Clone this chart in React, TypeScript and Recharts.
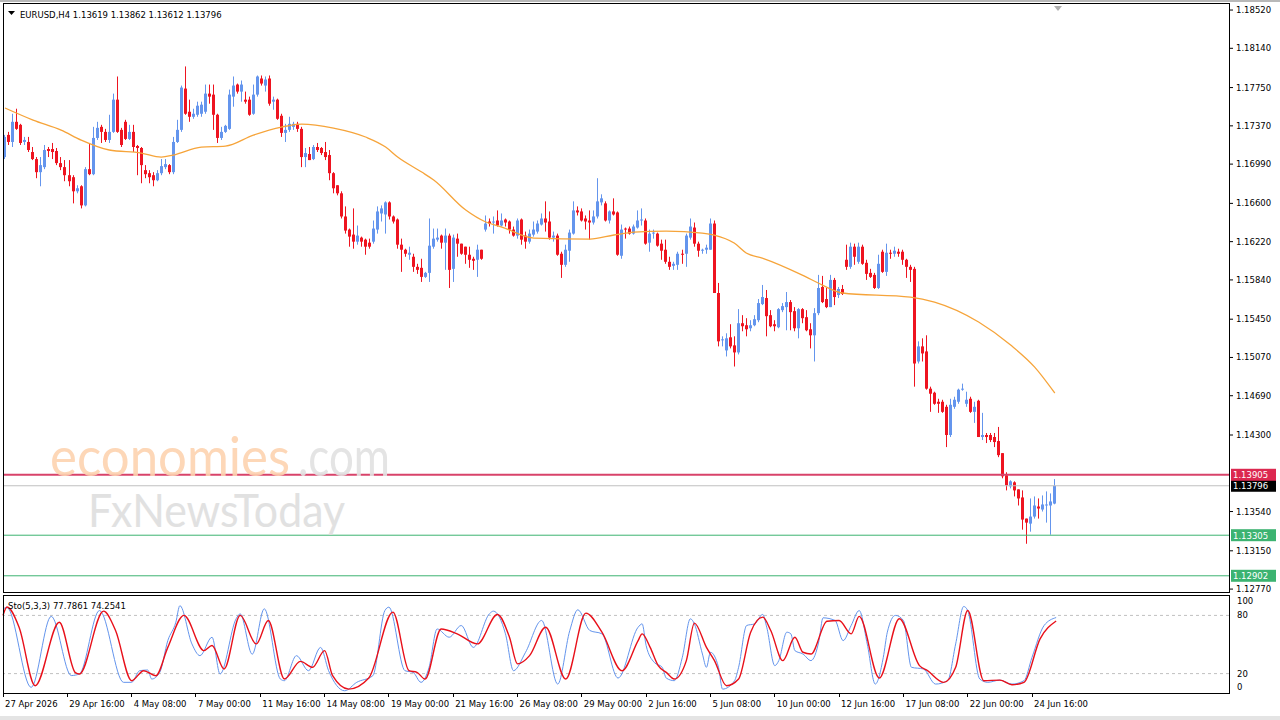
import React from 'react';
import { ComposedChart, Bar, Line, XAxis, YAxis, ReferenceLine } from 'recharts';

// EURUSD H4 candles, bar 0 = 27 Apr 2026 00:00
const OPEN = [
  1.1706, 1.1728, 1.1721, 1.1741, 1.1738, 1.1721, 1.1721, 1.1711, 1.1704, 1.1691,
  1.1696, 1.1714, 1.1714, 1.1712, 1.17, 1.1696, 1.1688, 1.1686, 1.1672, 1.1677,
  1.1658, 1.1694, 1.1689, 1.1725, 1.1736, 1.1731, 1.1723, 1.1731, 1.1763, 1.1733,
  1.1741, 1.1724, 1.1731, 1.1717, 1.1715, 1.1693, 1.169, 1.1688, 1.1683, 1.169,
  1.1696, 1.1698, 1.1691, 1.1721, 1.1733, 1.1774, 1.1751, 1.1746, 1.1748, 1.1749,
  1.1751, 1.1769, 1.1768, 1.1748, 1.1725, 1.1731, 1.1734, 1.1766, 1.1778, 1.1771,
  1.1763, 1.1763, 1.1749, 1.1768, 1.1784, 1.1777, 1.1784, 1.1761, 1.1763, 1.1747,
  1.173, 1.1733, 1.1736, 1.1739, 1.1734, 1.1706, 1.1709, 1.1704, 1.1716, 1.1715,
  1.1711, 1.1708, 1.169, 1.1678, 1.167, 1.1647, 1.1634, 1.1629, 1.1622, 1.1626,
  1.1624, 1.1621, 1.1622, 1.1634, 1.165, 1.1649, 1.1661, 1.1647, 1.1644, 1.1619,
  1.1614, 1.1609, 1.1607, 1.1597, 1.1596, 1.1587, 1.1591, 1.1617, 1.1624, 1.1628,
  1.1621, 1.1628, 1.1595, 1.1625, 1.162, 1.1617, 1.1609, 1.1605, 1.1604, 1.1614,
  1.1634, 1.1642, 1.1641, 1.1643, 1.1638, 1.1644, 1.1642, 1.1634, 1.1628, 1.1644,
  1.1628, 1.1622, 1.1629, 1.1632, 1.1639, 1.1645, 1.1642, 1.1626, 1.1628, 1.161,
  1.1599, 1.1613, 1.163, 1.1653, 1.1652, 1.1645, 1.1643, 1.1641, 1.1647, 1.1661,
  1.166, 1.1643, 1.1652, 1.1651, 1.1608, 1.1635, 1.1635, 1.163, 1.1636, 1.1643,
  1.1643, 1.1621, 1.163, 1.163, 1.162, 1.1614, 1.1602, 1.1598, 1.1599, 1.161,
  1.161, 1.1626, 1.1636, 1.162, 1.1613, 1.1614, 1.1614, 1.164, 1.1571, 1.1524,
  1.1514, 1.1527, 1.1519, 1.1512, 1.1541, 1.1539, 1.1536, 1.1539, 1.1544, 1.156,
  1.1566, 1.1549, 1.154, 1.1537, 1.1554, 1.1557, 1.1562, 1.1553, 1.1536, 1.1555,
  1.1547, 1.1535, 1.1529, 1.1551, 1.1577, 1.1565, 1.1557, 1.1584, 1.1569, 1.1575,
  1.1604, 1.1597, 1.1617, 1.1602, 1.1617, 1.1601, 1.1591, 1.1589, 1.1576, 1.1612,
  1.1592, 1.1611, 1.161, 1.1612, 1.1612, 1.1604, 1.1597, 1.1595, 1.1503, 1.1518,
  1.1513, 1.1476, 1.1472, 1.1463, 1.1463, 1.1458, 1.143, 1.1458, 1.1463, 1.1475,
  1.1461, 1.1466, 1.1453, 1.1464, 1.1428, 1.143, 1.143, 1.1428, 1.1424, 1.1412,
  1.139, 1.1379, 1.1383, 1.1376, 1.1368, 1.1347, 1.1342, 1.1349, 1.1359, 1.1356,
  1.136, 1.136, 1.13619,
];
const HIGH = [
  1.1728, 1.1731, 1.1749, 1.1754, 1.1739, 1.1726, 1.1726, 1.1716, 1.1706, 1.1706,
  1.1718, 1.1716, 1.172, 1.1715, 1.1706, 1.1703, 1.1703, 1.1688, 1.1678, 1.1678,
  1.1696, 1.172, 1.1736, 1.1741, 1.1738, 1.1734, 1.1748, 1.1769, 1.1786, 1.1735,
  1.1743, 1.1738, 1.1738, 1.1718, 1.1716, 1.1698, 1.1693, 1.1691, 1.1693, 1.1704,
  1.1704, 1.1699, 1.1726, 1.1743, 1.1777, 1.1796, 1.1763, 1.1754, 1.1761, 1.1761,
  1.1778, 1.1778, 1.1778, 1.1749, 1.1736, 1.1738, 1.1773, 1.1786, 1.1779, 1.1782,
  1.1771, 1.1766, 1.1778, 1.1787, 1.1787, 1.1786, 1.1787, 1.1766, 1.1764, 1.1749,
  1.1739, 1.1746, 1.1741, 1.1741, 1.1736, 1.1715, 1.1716, 1.1718, 1.172, 1.1716,
  1.1721, 1.1713, 1.1691, 1.1678, 1.1672, 1.1657, 1.1635, 1.1655, 1.1638, 1.1627,
  1.1625, 1.1625, 1.1643, 1.1657, 1.1658, 1.1662, 1.1662, 1.1648, 1.1645, 1.1625,
  1.1615, 1.1617, 1.161, 1.16, 1.1605, 1.1592, 1.1645, 1.1635, 1.1635, 1.1629,
  1.1635, 1.163, 1.1629, 1.163, 1.162, 1.1617, 1.1617, 1.1607, 1.1619, 1.1614,
  1.1648, 1.1645, 1.1647, 1.1653, 1.165, 1.1645, 1.1643, 1.1637, 1.1645, 1.1645,
  1.1632, 1.1634, 1.1642, 1.1643, 1.165, 1.1662, 1.1652, 1.1632, 1.163, 1.1612,
  1.1619, 1.1634, 1.1662, 1.1657, 1.1655, 1.1648, 1.1653, 1.1653, 1.1685, 1.1669,
  1.1662, 1.1653, 1.1665, 1.1652, 1.1639, 1.1636, 1.1637, 1.1639, 1.1653, 1.1655,
  1.1645, 1.1634, 1.1634, 1.1631, 1.1624, 1.1624, 1.1607, 1.1602, 1.1612, 1.1614,
  1.163, 1.1645, 1.1641, 1.1622, 1.1615, 1.1619, 1.1645, 1.1643, 1.1581, 1.1528,
  1.1531, 1.154, 1.1528, 1.1555, 1.1549, 1.1546, 1.1544, 1.1549, 1.1565, 1.1579,
  1.1574, 1.1554, 1.1544, 1.1556, 1.1561, 1.1572, 1.1564, 1.1557, 1.1556, 1.1556,
  1.1554, 1.1541, 1.1556, 1.1589, 1.1588, 1.1576, 1.1589, 1.1586, 1.1577, 1.1579,
  1.1619, 1.1621, 1.162, 1.1621, 1.1619, 1.1604, 1.1595, 1.1591, 1.1609, 1.1614,
  1.162, 1.1614, 1.1617, 1.1615, 1.1614, 1.1605, 1.1599, 1.1597, 1.1523, 1.1526,
  1.1529, 1.1478, 1.1473, 1.1466, 1.1465, 1.146, 1.1466, 1.1468, 1.1476, 1.1481,
  1.1473, 1.1468, 1.1463, 1.1465, 1.1452, 1.1432, 1.1432, 1.1432, 1.1438, 1.1412,
  1.1393, 1.1385, 1.1384, 1.1376, 1.1375, 1.1347, 1.1367, 1.1369, 1.1367, 1.137,
  1.1374, 1.1372, 1.13862,
];
const LOW = [
  1.1704, 1.1718, 1.1716, 1.1733, 1.1718, 1.1718, 1.1711, 1.1703, 1.1685, 1.1677,
  1.1694, 1.1706, 1.1704, 1.1698, 1.1693, 1.1682, 1.1677, 1.166, 1.167, 1.1655,
  1.1657, 1.1688, 1.1688, 1.1723, 1.172, 1.1721, 1.172, 1.173, 1.173, 1.1716,
  1.1723, 1.1723, 1.1711, 1.1688, 1.168, 1.1685, 1.168, 1.1677, 1.1682, 1.1688,
  1.1694, 1.1689, 1.1689, 1.172, 1.1731, 1.1748, 1.1741, 1.1744, 1.1746, 1.1746,
  1.1749, 1.1759, 1.1733, 1.172, 1.1723, 1.173, 1.1733, 1.1756, 1.1769, 1.1761,
  1.1759, 1.1747, 1.1748, 1.1766, 1.1777, 1.1771, 1.1757, 1.1753, 1.1743, 1.1726,
  1.1721, 1.1731, 1.1733, 1.1731, 1.1696, 1.1696, 1.1703, 1.1703, 1.1711, 1.1708,
  1.1703, 1.1683, 1.167, 1.1668, 1.1645, 1.163, 1.1617, 1.1615, 1.1619, 1.1617,
  1.1609, 1.1615, 1.162, 1.163, 1.1642, 1.163, 1.1644, 1.164, 1.1615, 1.1592,
  1.1607, 1.1604, 1.1592, 1.159, 1.1582, 1.1586, 1.1582, 1.1615, 1.1622, 1.1615,
  1.1594, 1.1576, 1.1582, 1.1607, 1.1609, 1.16, 1.1596, 1.1594, 1.1587, 1.1604,
  1.1632, 1.1637, 1.163, 1.1637, 1.1637, 1.1637, 1.163, 1.1627, 1.1625, 1.1619,
  1.1615, 1.162, 1.1627, 1.163, 1.1638, 1.1632, 1.1624, 1.1622, 1.1608, 1.1586,
  1.1597, 1.1602, 1.1629, 1.1648, 1.1642, 1.1634, 1.1624, 1.1639, 1.1645, 1.1658,
  1.1642, 1.164, 1.1648, 1.1608, 1.1605, 1.1625, 1.1629, 1.1629, 1.1635, 1.1638,
  1.1619, 1.1612, 1.1625, 1.1617, 1.1604, 1.16, 1.1594, 1.1594, 1.1594, 1.16,
  1.1597, 1.1624, 1.1617, 1.1607, 1.161, 1.161, 1.1614, 1.1571, 1.1518, 1.1518,
  1.1508, 1.1516, 1.1498, 1.151, 1.1533, 1.1528, 1.1533, 1.1538, 1.1542, 1.1559,
  1.1528, 1.1537, 1.1533, 1.1536, 1.1552, 1.1534, 1.1534, 1.1533, 1.1526, 1.1541,
  1.1533, 1.1516, 1.1503, 1.1549, 1.1561, 1.1556, 1.1557, 1.1559, 1.1566, 1.1569,
  1.1594, 1.1595, 1.1599, 1.16, 1.1599, 1.1584, 1.1586, 1.1575, 1.1575, 1.1591,
  1.1588, 1.1605, 1.1607, 1.1607, 1.1599, 1.1586, 1.1582, 1.1478, 1.1501, 1.1503,
  1.1475, 1.1453, 1.146, 1.1452, 1.1452, 1.1418, 1.1428, 1.1456, 1.1461, 1.1474,
  1.1458, 1.1452, 1.1442, 1.1428, 1.1425, 1.1422, 1.1423, 1.1418, 1.1408, 1.1387,
  1.1375, 1.1377, 1.1369, 1.136, 1.1336, 1.1322, 1.1334, 1.1347, 1.1347, 1.1354,
  1.1343, 1.1331, 1.13612,
];
const CLOSE = [
  1.1726, 1.1721, 1.1741, 1.1734, 1.172, 1.1723, 1.1713, 1.1704, 1.1691, 1.1698,
  1.1713, 1.1712, 1.1711, 1.17, 1.1696, 1.1688, 1.1682, 1.1672, 1.1675, 1.1658,
  1.1694, 1.1689, 1.1725, 1.1735, 1.1731, 1.1723, 1.1731, 1.1763, 1.1731, 1.1718,
  1.1724, 1.1731, 1.1716, 1.1715, 1.1698, 1.1689, 1.1686, 1.1683, 1.169, 1.1697,
  1.1699, 1.1691, 1.1721, 1.1733, 1.1775, 1.1749, 1.1746, 1.1749, 1.1757, 1.1758,
  1.1769, 1.1766, 1.1748, 1.1725, 1.1731, 1.1737, 1.1768, 1.1777, 1.1771, 1.1778,
  1.1761, 1.1748, 1.1768, 1.1786, 1.1779, 1.1783, 1.1759, 1.1763, 1.1744, 1.173,
  1.1733, 1.1739, 1.1739, 1.1734, 1.1706, 1.171, 1.1703, 1.1716, 1.1713, 1.171,
  1.1706, 1.169, 1.1675, 1.167, 1.1647, 1.1633, 1.1627, 1.1622, 1.1628, 1.1622,
  1.1617, 1.1617, 1.1635, 1.1652, 1.1655, 1.1661, 1.1647, 1.1642, 1.1619, 1.1614,
  1.161, 1.1611, 1.1597, 1.1594, 1.1587, 1.1591, 1.1618, 1.1625, 1.1626, 1.1621,
  1.1628, 1.1594, 1.1626, 1.162, 1.161, 1.1609, 1.1604, 1.1603, 1.1614, 1.1605,
  1.164, 1.164, 1.1642, 1.1638, 1.1643, 1.1641, 1.1634, 1.1628, 1.1643, 1.1624,
  1.1622, 1.163, 1.1634, 1.164, 1.1645, 1.1641, 1.1626, 1.1628, 1.1609, 1.1599,
  1.1614, 1.1631, 1.1653, 1.1651, 1.1643, 1.1642, 1.1641, 1.1647, 1.1662, 1.1665,
  1.1643, 1.1652, 1.1649, 1.1609, 1.1634, 1.1634, 1.163, 1.1637, 1.1643, 1.1644,
  1.162, 1.163, 1.1631, 1.1618, 1.1613, 1.1602, 1.1597, 1.16, 1.161, 1.1609,
  1.1628, 1.1637, 1.162, 1.1613, 1.1614, 1.1616, 1.164, 1.1571, 1.1523, 1.1525,
  1.1526, 1.1518, 1.1512, 1.1541, 1.1538, 1.1535, 1.1539, 1.1545, 1.1561, 1.1567,
  1.1548, 1.1538, 1.1538, 1.1555, 1.1558, 1.1562, 1.1552, 1.1536, 1.1555, 1.1546,
  1.1534, 1.1529, 1.1551, 1.1576, 1.1562, 1.1557, 1.1584, 1.1567, 1.1575, 1.157,
  1.1597, 1.1617, 1.1607, 1.1617, 1.16, 1.159, 1.1587, 1.1576, 1.16, 1.1592,
  1.1611, 1.161, 1.1613, 1.161, 1.1604, 1.1597, 1.1594, 1.1501, 1.1518, 1.1511,
  1.1476, 1.1471, 1.1461, 1.1461, 1.1453, 1.143, 1.146, 1.1465, 1.1475, 1.1476,
  1.1465, 1.1453, 1.1458, 1.1428, 1.143, 1.1428, 1.1425, 1.1423, 1.141, 1.1389,
  1.138, 1.1384, 1.1375, 1.1367, 1.1346, 1.1343, 1.1349, 1.136, 1.1357, 1.1361,
  1.1361, 1.1364, 1.13796,
];

// moving average, read at the visible bends
const MA_BAR = [0, 7, 14, 19, 26, 34, 39, 42, 49, 55, 62, 69, 74, 82, 90, 95, 98, 104, 107, 115, 120, 124, 132, 146, 152, 157, 165, 174, 177, 182, 185, 189, 199, 204, 209, 226, 232, 243, 251, 257, 262];
const MA_VAL = [1.17547, 1.17427, 1.17328, 1.17229, 1.1713, 1.171, 1.1706, 1.1708, 1.17159, 1.17169, 1.17278, 1.17358, 1.17388, 1.17348, 1.17259, 1.17159, 1.1706, 1.16911, 1.16832, 1.16534, 1.16415, 1.16365, 1.16256, 1.16246, 1.16286, 1.16315, 1.16325, 1.16305, 1.16286, 1.16206, 1.16107, 1.16057, 1.15888, 1.15789, 1.1571, 1.1567, 1.1562, 1.15422, 1.15193, 1.14974, 1.14717];

// stochastic %K (blue) and %D (red), turning points
const K_BAR = [0, 1, 7, 12, 17, 19, 24, 30, 32, 34, 36, 37, 39, 41, 43, 44, 47, 49, 52, 54, 58, 59, 62, 65, 69, 70, 73, 76, 79, 81, 85, 88, 92, 95, 96, 100, 102, 104, 106, 108, 111, 114, 117, 121, 122, 125, 127, 130, 134, 138, 141, 143, 146, 149, 153, 158, 159, 160, 162, 164, 165, 167, 169, 171, 172, 174, 175, 176, 178, 179, 182, 183, 185, 187, 189, 190, 192, 193, 195, 196, 197, 199, 201, 203, 204, 207, 209, 211, 213, 215, 217, 219, 220, 222, 224, 226, 229, 232, 235, 237, 239, 240, 243, 245, 248, 251, 254, 256, 259, 262];
const K_VAL = [87, 88, 5.8, 79, 18, 19.6, 85, 11, 11, 23, 23.7, 14.4, 21.3, 54, 73, 90, 50.6, 38.5, 57.5, 19.6, 76.5, 81.6, 40, 86.8, 14.4, 12.7, 38.5, 23, 47, 23, 2.3, 11, 17.8, 85, 88.5, 23, 21.3, 11, 26.5, 66, 57.5, 69.6, 47, 81.6, 84.4, 61, 23, 42, 74.8, 9.2, 64.4, 85.8, 64.4, 61, 15.4, 67.8, 71.3, 48.9, 31.6, 26.5, 15.4, 12.7, 36.8, 76.5, 71.3, 40.2, 26.5, 42, 26.5, 4, 12.7, 26.5, 69.6, 71.3, 81, 67.8, 28.2, 33.4, 62.7, 61, 43.7, 40.2, 33.4, 54, 77.5, 74.8, 54, 69.6, 85, 50.6, 9.2, 36.8, 62.7, 80, 74.8, 26.5, 24.7, 9.2, 12.7, 50.6, 89.2, 85, 14.4, 11, 13.3, 9.2, 12.7, 36.8, 69.6, 77.79];
const D_BAR = [0, 1, 4, 8, 14, 18, 19, 25, 28, 32, 35, 38, 41, 45, 50, 52, 55, 59, 63, 66, 70, 74, 77, 80, 82, 86, 91, 97, 101, 103, 105, 109, 113, 118, 123, 126, 128, 131, 135, 140, 145, 149, 154, 158, 159, 161, 163, 165, 167, 170, 172, 175, 177, 180, 183, 186, 189, 191, 194, 197, 199, 201, 205, 208, 211, 213, 218, 223, 228, 230, 234, 237, 240, 244, 248, 251, 254, 258, 262];
const D_VAL = [80, 88.6, 67.8, 7.5, 73, 21, 19.6, 84.4, 64.4, 12.7, 23, 17.8, 47, 80, 43.7, 48.9, 24.7, 80, 50.6, 74.8, 14.4, 32.6, 26.5, 43.7, 17.8, 4, 15.4, 83.4, 23, 21.3, 14.4, 66, 61, 50.6, 81, 57.5, 30, 38.5, 67.8, 14.4, 82.3, 62.7, 23, 54, 61, 47, 28.2, 21.3, 14.4, 33.4, 72, 47, 33.4, 7.5, 14.4, 62.7, 78.2, 64.4, 33.4, 57.5, 42, 40.2, 74, 74.8, 61, 79, 15.4, 76.5, 28.2, 23, 11, 26.5, 85, 12.7, 13.3, 8.5, 11, 55.8, 74.25];

const PRICE_TICKS = [1.1852, 1.1814, 1.1775, 1.1737, 1.1699, 1.166, 1.1622, 1.1584, 1.1545, 1.1507, 1.1469, 1.143, 1.1354, 1.1315, 1.1277];
const TIME_TICKS = [0, 16, 32, 48, 64, 80, 96, 112, 128, 144, 160, 176, 192, 208, 224, 240, 256];
const TIME_LABELS = ['27 Apr 2026', '29 Apr 16:00', '4 May 08:00', '7 May 00:00', '11 May 16:00', '14 May 08:00', '19 May 00:00', '21 May 16:00', '26 May 08:00', '29 May 00:00', '2 Jun 16:00', '5 Jun 08:00', '10 Jun 00:00', '12 Jun 16:00', '17 Jun 08:00', '22 Jun 00:00', '24 Jun 16:00'];

const RESIST = 1.13905;
const LAST = 1.13796;
const SUPPORTS = [1.13305, 1.12902];

const SLOTS = 306; // empty space on the right, like the MT4 chart shift
const FONT = '"DejaVu Sans", Verdana, sans-serif';
const WM_FONT = 'Lato, "Open Sans", sans-serif';
const BULL = '#6495ed';
const BEAR = '#ee1420';

const pick = (bars: number[], vals: number[], i: number) => {
  const j = bars.indexOf(i);
  return j >= 0 ? vals[j] : null;
};

const rows = Array.from({ length: SLOTS }, (_, i) => {
  const real = i < OPEN.length;
  return {
    i,
    range: real ? [LOW[i], HIGH[i]] : null,
    o: real ? OPEN[i] : null,
    h: real ? HIGH[i] : null,
    l: real ? LOW[i] : null,
    c: real ? CLOSE[i] : null,
    ma: pick(MA_BAR, MA_VAL, i),
    k: pick(K_BAR, K_VAL, i),
    d: pick(D_BAR, D_VAL, i),
  };
});

const Candle = (props: any) => {
  const { x, y, width, height, payload } = props;
  if (!payload || payload.o == null || !isFinite(y) || !isFinite(height)) return <g />;
  const top = Math.min(y, y + height);
  const span = Math.abs(height);
  const { o, h, l, c } = payload;
  const toY = (p: number) => top + (h === l ? 0 : ((h - p) / (h - l)) * span);
  const cx = Math.floor(x + width / 2);
  const col = c >= o ? BULL : BEAR;
  const b1 = Math.min(toY(o), toY(c));
  const bh = Math.max(1, Math.abs(toY(o) - toY(c)));
  return (
    <g>
      <line x1={cx + 0.5} x2={cx + 0.5} y1={top} y2={top + Math.max(span, 1)} stroke={col} strokeWidth={1} />
      <rect x={cx - 1} y={b1} width={3} height={bh} fill={col} />
    </g>
  );
};

const Tag = ({ viewBox, text, bg }: any) => {
  if (!viewBox) return null;
  const x = viewBox.x + viewBox.width + 2;
  const y = viewBox.y;
  return (
    <g>
      <rect x={x} y={y - 6} width={45} height={12} fill={bg} />
      <text x={x + 2} y={y + 3.5} fontSize={8.5} fontFamily={FONT} fill="#fff">{text}</text>
    </g>
  );
};

const TimeTick = ({ x, y, payload }: any) => {
  const k = TIME_TICKS.indexOf(payload.value);
  return (
    <g>
      <line x1={Math.floor(x) + 0.5} x2={Math.floor(x) + 0.5} y1={y} y2={y + 4} stroke="#000" />
      <text x={x + 2} y={y + 14} fontSize={8.5} fontFamily={FONT} fill="#000">{TIME_LABELS[k]}</text>
    </g>
  );
};

const StochTick = ({ x, y, payload }: any) => {
  const v = payload.value;
  const dy = v === 100 ? 8 : v === 0 ? -3 : 3;
  return (
    <text x={x} y={y + dy} fontSize={8.5} fontFamily={FONT} fill="#000">{v}</text>
  );
};

export default function App() {
  return (
    <div style={{ position: 'absolute', left: 0, top: 0, width: 1280, height: 720, background: '#fff', overflow: 'hidden' }}>
      {/* main price panel */}
      <div style={{ position: 'absolute', left: 0, top: 0 }}>
        <ComposedChart width={1280} height={597} data={rows} margin={{ top: 5, right: 0, bottom: 5, left: 3 }}>
          <XAxis dataKey="i" type="category" hide />
          <YAxis
            orientation="right"
            width={51}
            domain={[1.12741, 1.1857]}
            allowDataOverflow
            ticks={PRICE_TICKS}
            interval={0}
            tickFormatter={(v: number) => v.toFixed(5)}
            axisLine={false}
            tickSize={4}
            tickMargin={3}
            tickLine={{ stroke: '#000' }}
            tick={{ fontSize: 8.5, fill: '#000', fontFamily: FONT }}
          />
          <ReferenceLine y={LAST} stroke="#c0c0c0" strokeWidth={1}
            label={(p: any) => <Tag viewBox={p.viewBox} text={LAST.toFixed(5)} bg="#000" />} />
          <ReferenceLine y={RESIST} stroke="#d8436a" strokeWidth={2}
            label={(p: any) => <Tag viewBox={p.viewBox} text={RESIST.toFixed(5)} bg="#dc2850" />} />
          {SUPPORTS.map((s) => (
            <ReferenceLine key={s} y={s} stroke="#3cb371" strokeWidth={1}
              label={(p: any) => <Tag viewBox={p.viewBox} text={s.toFixed(5)} bg="#3cb371" />} />
          ))}
          <Bar dataKey="range" shape={Candle} isAnimationActive={false} />
          <Line dataKey="ma" type="monotone" stroke="#f6a43a" strokeWidth={1.3} dot={false} connectNulls isAnimationActive={false} />
        </ComposedChart>
      </div>

      {/* stochastic panel */}
      <div style={{ position: 'absolute', left: 0, top: 596 }}>
        <ComposedChart width={1280} height={124} data={rows} margin={{ top: 0, right: 0, bottom: 0, left: 3 }}>
          <XAxis dataKey="i" type="category" ticks={TIME_TICKS} interval={0} height={27}
            tickLine={false} axisLine={false} tickSize={0} tickMargin={0} tick={(p: any) => <TimeTick {...p} />} />
          <YAxis orientation="right" width={51} domain={[0, 100]} ticks={[0, 20, 80, 100]} interval={0}
            axisLine={false} tickLine={false} tickSize={4} tickMargin={4} tick={(p: any) => <StochTick {...p} />} />
          <ReferenceLine y={80} stroke="#c0c0c0" strokeDasharray="3 3" />
          <ReferenceLine y={20} stroke="#c0c0c0" strokeDasharray="3 3" />
          <Line dataKey="k" type="monotone" stroke={BULL} strokeWidth={1} dot={false} connectNulls isAnimationActive={false} />
          <Line dataKey="d" type="monotone" stroke="#e8101a" strokeWidth={1.4} dot={false} connectNulls isAnimationActive={false} />
        </ComposedChart>
      </div>

      {/* window edge and panel frames */}
      <div style={{ position: 'absolute', left: 0, top: 0, width: 1280, height: 2, background: '#b8b8b8' }} />
      <div style={{ position: 'absolute', left: 0, top: 716, width: 1280, height: 4, background: '#e4e4e4' }} />
      <div style={{ position: 'absolute', left: 3, top: 3, width: 1227, height: 590, border: '1px solid #000', boxSizing: 'border-box', pointerEvents: 'none' }} />
      <div style={{ position: 'absolute', left: 3, top: 595, width: 1227, height: 99, border: '1px solid #000', boxSizing: 'border-box', pointerEvents: 'none' }} />

      {/* captions and watermark */}
      <svg width={1280} height={720} style={{ position: 'absolute', left: 0, top: 0, pointerEvents: 'none' }}>
        <polygon points="8,11 15,11 11.5,15" fill="#000" />
        <text x={20} y={18} fontSize={8.5} fontFamily={FONT} fill="#000">EURUSD,H4  1.13619 1.13862 1.13612 1.13796</text>
        <text x={8} y={609} fontSize={8.5} fontFamily={FONT} fill="#000">Sto(5,3,3) 77.7861 74.2541</text>
        <polygon points="1054,6 1062,6 1058,11" fill="#b0b0b0" />
        <text x={50} y={476} fontSize={54} fontFamily={WM_FONT} fill="#fdd3b0" textLength={240} lengthAdjust="spacingAndGlyphs" opacity={0.9}>economies</text>
        <text x={298} y={476} fontSize={54} fontFamily={WM_FONT} fill="#e2e2e2" textLength={92} lengthAdjust="spacingAndGlyphs" opacity={0.9}>.com</text>
        <text x={88} y={527} fontSize={46} fontFamily={WM_FONT} fill="#dedede" textLength={257} lengthAdjust="spacingAndGlyphs" opacity={0.9}>FxNewsToday</text>
      </svg>
    </div>
  );
}
